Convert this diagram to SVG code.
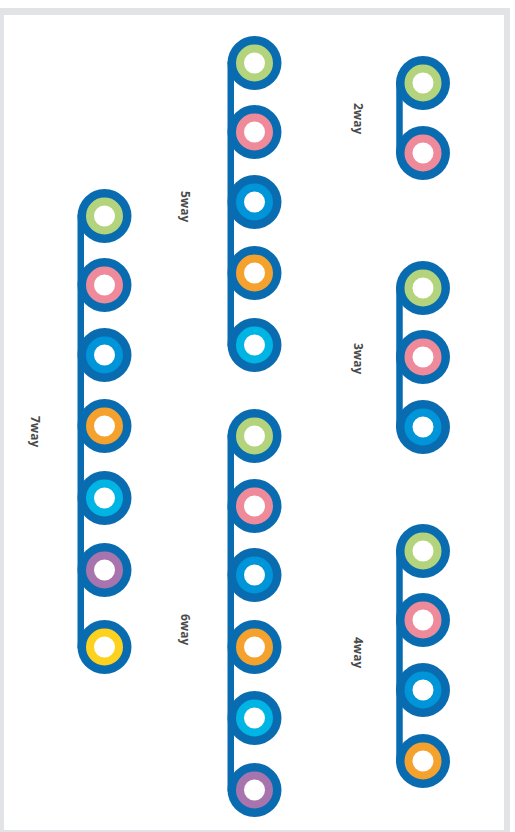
<svg xmlns="http://www.w3.org/2000/svg" width="515" height="832" viewBox="0 0 515 832">
<defs>
<style>
.line{stroke:#0a6cb0;stroke-width:6.5;stroke-linecap:round;fill:none}
.outer{fill:#0a6cb0}
.ring{fill:#fff;stroke-width:8}
.g{stroke:#b3d47c}.p{stroke:#ef8a9b}.b{stroke:#0094d8}.o{stroke:#f4a12e}.c{stroke:#00b4e3}.v{stroke:#a774ae}.y{stroke:#fdd21f}
.lbl{font-family:"Open Sans","DejaVu Sans",sans-serif;font-weight:bold;font-size:12px;fill:#4a4a4a}
</style>
</defs>
<rect x="0" y="8" width="510" height="824" fill="#e2e3e7"/>
<rect x="4" y="15" width="500" height="815" fill="#ffffff"/>
<g id="connectors">
<line class="line" x1="399.5" y1="83" x2="399.5" y2="153"/>
<line class="line" x1="399.5" y1="288" x2="399.5" y2="427"/>
<line class="line" x1="399.5" y1="551" x2="399.5" y2="761"/>
<line class="line" x1="230.75" y1="63" x2="230.75" y2="345"/>
<line class="line" x1="230.75" y1="436" x2="230.75" y2="790"/>
<line class="line" x1="80.75" y1="216" x2="80.75" y2="647"/>
</g>
<g id="n2way">
<g transform="translate(423,83)"><circle class="outer" r="27"/><circle class="ring g" r="14.5"/></g>
<g transform="translate(423,153)"><circle class="outer" r="27"/><circle class="ring p" r="14.5"/></g>
<text class="lbl" transform="translate(354,103) rotate(90)">2way</text>
</g>
<g id="n3way">
<g transform="translate(423,288)"><circle class="outer" r="27"/><circle class="ring g" r="14.5"/></g>
<g transform="translate(423,357)"><circle class="outer" r="27"/><circle class="ring p" r="14.5"/></g>
<g transform="translate(423,427)"><circle class="outer" r="27"/><circle class="ring b" r="14.5"/></g>
<text class="lbl" transform="translate(354,343) rotate(90)">3way</text>
</g>
<g id="n4way">
<g transform="translate(423,551)"><circle class="outer" r="27"/><circle class="ring g" r="14.5"/></g>
<g transform="translate(423,620)"><circle class="outer" r="27"/><circle class="ring p" r="14.5"/></g>
<g transform="translate(423,690)"><circle class="outer" r="27"/><circle class="ring b" r="14.5"/></g>
<g transform="translate(423,761)"><circle class="outer" r="27"/><circle class="ring o" r="14.5"/></g>
<text class="lbl" transform="translate(354,637) rotate(90)">4way</text>
</g>
<g id="n5way">
<g transform="translate(254.5,63)"><circle class="outer" r="27"/><circle class="ring g" r="14.5"/></g>
<g transform="translate(254.5,132)"><circle class="outer" r="27"/><circle class="ring p" r="14.5"/></g>
<g transform="translate(254.5,202)"><circle class="outer" r="27"/><circle class="ring b" r="14.5"/></g>
<g transform="translate(254.5,273)"><circle class="outer" r="27"/><circle class="ring o" r="14.5"/></g>
<g transform="translate(254.5,345)"><circle class="outer" r="27"/><circle class="ring c" r="14.5"/></g>
<text class="lbl" transform="translate(181,191) rotate(90)">5way</text>
</g>
<g id="n6way">
<g transform="translate(254.5,436)"><circle class="outer" r="27"/><circle class="ring g" r="14.5"/></g>
<g transform="translate(254.5,506)"><circle class="outer" r="27"/><circle class="ring p" r="14.5"/></g>
<g transform="translate(254.5,575)"><circle class="outer" r="27"/><circle class="ring b" r="14.5"/></g>
<g transform="translate(254.5,647)"><circle class="outer" r="27"/><circle class="ring o" r="14.5"/></g>
<g transform="translate(254.5,718)"><circle class="outer" r="27"/><circle class="ring c" r="14.5"/></g>
<g transform="translate(254.5,790)"><circle class="outer" r="27"/><circle class="ring v" r="14.5"/></g>
<text class="lbl" transform="translate(181,614) rotate(90)">6way</text>
</g>
<g id="n7way">
<g transform="translate(104.5,216)"><circle class="outer" r="27"/><circle class="ring g" r="14.5"/></g>
<g transform="translate(104.5,285)"><circle class="outer" r="27"/><circle class="ring p" r="14.5"/></g>
<g transform="translate(104.5,355)"><circle class="outer" r="27"/><circle class="ring b" r="14.5"/></g>
<g transform="translate(104.5,426)"><circle class="outer" r="27"/><circle class="ring o" r="14.5"/></g>
<g transform="translate(104.5,498)"><circle class="outer" r="27"/><circle class="ring c" r="14.5"/></g>
<g transform="translate(104.5,570)"><circle class="outer" r="27"/><circle class="ring v" r="14.5"/></g>
<g transform="translate(104.5,647)"><circle class="outer" r="27"/><circle class="ring y" r="14.5"/></g>
<text class="lbl" transform="translate(31,416) rotate(90)">7way</text>
</g>
</svg>
